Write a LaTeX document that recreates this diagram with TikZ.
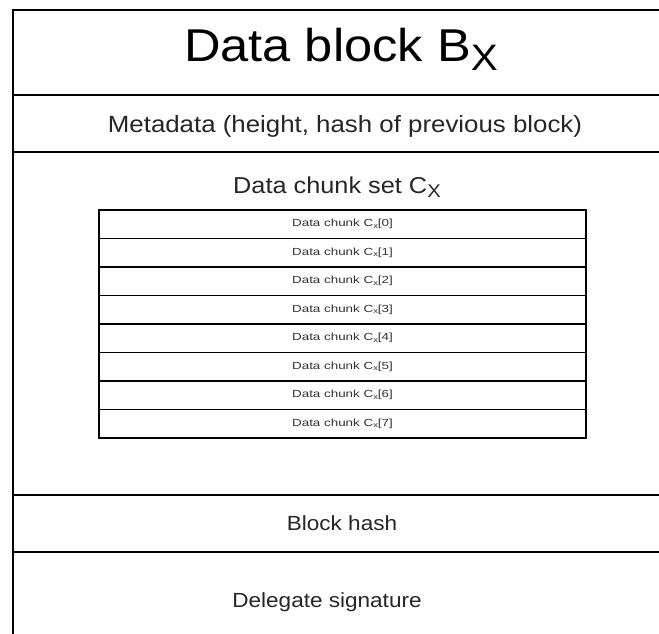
\documentclass[tikz,border=0pt]{standalone}
\usepackage{fontspec}
\setmainfont{Liberation Sans}[FakeStretch=1.1]
\newfontfamily\chunkfont{Liberation Sans}[FakeStretch=1.3]
\newcommand\mysub[1]{\raisebox{-0.32\height}{\scalebox{0.8}{#1}}}
\newcommand\chsub[1]{\raisebox{-0.3\height}{\scalebox{0.7}{#1}}}
\begin{document}
\begin{tikzpicture}[x=1pt,y=-1pt]
\tikzset{
  frame/.style={line width=1.6pt, draw=black, line cap=rect},
  chunk/.style={draw=black, line width=1.6pt, minimum width=487pt, minimum height=28.5pt,
    inner sep=0pt, outer sep=0pt, font=\chunkfont\fontsize{10.3}{10.3}\selectfont, text=black!80},
  label/.style={anchor=base, inner sep=0pt, text=black!85},
}
\useasboundingbox (0,0) rectangle (659,634);
\fill[white] (0,0) rectangle (659,634);
% frame coordinates
\coordinate (tl) at (13,10);
\coordinate (tr) at (659,10);
\coordinate (bl) at (13,634);
\coordinate (l1) at (13,95);   \coordinate (r1) at (659,95);
\coordinate (l2) at (13,152);  \coordinate (r2) at (659,152);
\coordinate (l3) at (13,495);  \coordinate (r3) at (659,495);
\coordinate (l4) at (13,552);  \coordinate (r4) at (659,552);
\draw[frame] (tr) -- (tl) -- (bl);
\draw[frame] (l1) -- (r1);
\draw[frame] (l2) -- (r2);
\draw[frame] (l3) -- (r3);
\draw[frame] (l4) -- (r4);
% texts
\node[label, font=\fontsize{46}{46}\selectfont, text=black] (title) at (341,62) {Data block B\mysub{X}};
\node[label, font=\fontsize{23.5}{23.5}\selectfont] (meta) at (345,132) {Metadata (height, hash of previous block)};
\node[label, font=\fontsize{23}{23}\selectfont] (set) at (337,193) {Data chunk set C\mysub{X}};
\node[label, font=\fontsize{20.5}{20.5}\selectfont] (hash) at (342,530) {Block hash};
\node[label, font=\fontsize{20.5}{20.5}\selectfont] (sig) at (327,607) {Delegate signature};
% chunk rows
\foreach \i in {0,...,7}{
  \node[chunk, anchor=north west] (c\i) at (99,{210+28.5*\i}) {Data chunk C\chsub{x}[\i]};
}
\end{tikzpicture}
\end{document}
